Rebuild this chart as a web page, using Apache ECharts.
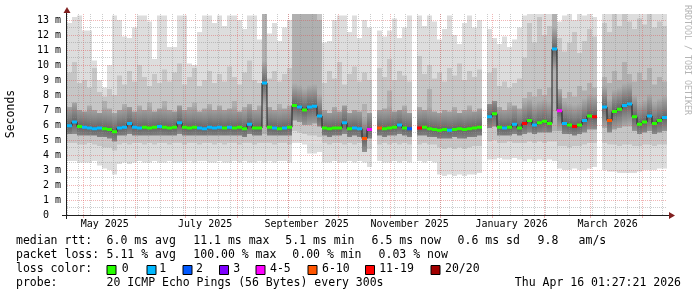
<!DOCTYPE html>
<html><head><meta charset="utf-8">
<script src="https://cdn.jsdelivr.net/npm/echarts@6/dist/echarts.min.js"></script>
<style>html,body{margin:0;padding:0;background:#fff}#c{width:697px;height:297px}</style>
</head><body><div id="c"></div>
<script>
// ---------- data ----------
// one column = 3 days, 120 columns from Apr 21 2025 to Apr 16 2026
const med = [5.95,6.2,5.9,5.85,5.8,5.75,5.8,5.75,5.7,5.55,
  5.8,5.85,6.1,5.85,5.8,5.85,5.8,5.85,5.9,5.85,
  5.8,5.85,6.15,5.85,5.8,5.85,5.8,5.75,5.85,5.8,
  5.85,5.8,5.85,5.8,5.85,5.75,6.05,5.8,5.8,8.8,
  5.85,5.8,5.75,5.8,5.85,7.3,7.2,7.0,7.2,7.25,
  6.6,5.8,5.75,5.8,5.8,6.15,5.75,5.8,5.75,5.1,
  5.7,null,5.8,5.75,5.8,5.85,6.0,5.8,5.75,null,
  5.8,5.85,5.75,5.7,5.65,5.7,5.65,5.7,5.75,5.7,
  5.75,5.8,5.85,null,6.55,6.75,5.85,5.8,5.85,6.05,
  5.8,6.1,6.3,6.0,6.15,6.25,6.1,11.07,6.95,6.1,
  6.0,5.9,6.0,6.3,6.6,6.55,null,7.2,6.3,6.9,
  7.05,7.3,7.4,6.55,6.05,6.2,6.6,6.1,6.3,6.5];
const loss = [1,1,0,1,1,1,1,0,0,0,
  1,1,1,1,1,0,0,0,1,0,
  0,0,1,0,0,0,1,1,1,1,
  1,0,1,0,0,0,1,0,0,1,
  0,1,0,1,0,0,1,0,1,1,
  1,0,0,0,0,1,0,1,1,5,
  4,null,5,0,0,0,1,0,2,null,
  6,0,0,0,0,0,1,0,0,0,
  0,0,0,null,1,0,0,1,0,1,
  0,6,0,1,0,0,0,1,4,1,
  0,6,0,1,0,6,null,1,5,0,
  0,1,1,0,0,0,1,0,0,1];
const smokeMin = [3.6,3.6,3.5,3.5,3.5,3.6,3.3,3.1,3.0,2.7,
  3.4,3.5,3.4,3.5,3.6,3.5,3.5,3.6,3.5,3.5,
  3.6,3.5,3.5,3.5,3.6,3.5,3.6,3.6,3.5,3.5,
  3.6,3.5,3.5,3.6,3.5,3.6,3.5,3.5,3.6,3.5,
  3.6,3.5,3.6,3.6,3.5,4.8,4.8,4.7,4.1,4.1,
  4.2,3.5,3.5,3.6,3.5,3.5,3.6,3.5,3.6,3.5,
  3.2,null,3.6,3.5,3.5,3.6,3.5,3.6,3.5,null,
  3.6,3.5,3.6,3.5,2.7,2.6,2.7,2.6,2.7,2.6,
  2.7,2.7,2.8,null,3.7,3.7,3.8,3.7,3.7,3.8,
  3.7,3.6,3.7,3.6,3.7,3.6,3.7,3.6,3.1,3.0,
  3.0,3.1,3.0,3.0,3.1,3.2,null,3.0,2.9,2.9,
  2.8,2.8,2.8,2.8,2.9,3.0,3.0,3.0,3.1,3.1];
const smokeLow = [4.8,4.8,4.7,4.7,4.8,4.7,4.6,4.5,4.5,4.3,
  4.7,4.8,4.7,4.8,4.8,4.7,4.8,4.7,4.8,4.8,
  4.7,4.8,4.8,4.7,4.8,4.8,4.7,4.8,4.8,4.7,
  4.8,4.7,4.8,4.8,4.7,4.8,4.8,4.7,4.8,4.8,
  4.8,4.7,4.8,4.8,4.7,5.6,5.5,5.4,5.3,5.3,
  5.2,4.8,4.7,4.8,4.8,4.7,4.8,4.7,4.8,4.6,
  4.4,null,4.7,4.8,4.7,4.8,4.7,4.8,4.7,null,
  4.7,4.8,4.7,4.7,4.5,4.4,4.5,4.4,4.5,4.4,
  4.5,4.6,4.6,null,4.9,5.0,4.8,4.8,4.9,4.8,
  4.8,4.8,4.9,4.8,4.9,4.8,4.9,4.9,4.6,4.6,
  4.5,4.6,4.6,4.7,4.8,4.8,null,4.8,4.7,4.7,
  4.6,4.7,4.7,4.6,4.6,4.7,4.7,4.6,4.7,4.7];
const smokeCoreLow = [5.4,5.4,5.3,5.3,5.3,5.3,5.2,5.2,5.1,4.9,
  5.3,5.3,5.4,5.3,5.3,5.3,5.3,5.3,5.3,5.3,
  5.3,5.3,5.4,5.3,5.3,5.3,5.3,5.3,5.3,5.3,
  5.3,5.3,5.3,5.3,5.3,5.2,5.4,5.3,5.3,5.4,
  5.3,5.3,5.3,5.3,5.3,6.3,6.2,6.0,6.0,6.1,
  5.9,5.3,5.2,5.3,5.3,5.4,5.2,5.3,5.2,4.2,
  5.1,null,5.3,5.2,5.3,5.3,5.4,5.3,5.2,null,
  5.3,5.3,5.2,5.2,5.1,5.1,5.1,5.2,5.1,5.1,
  5.2,5.2,5.3,null,5.8,5.9,5.3,5.3,5.3,5.4,
  5.3,5.4,5.5,5.4,5.5,5.5,5.5,5.6,5.6,5.4,
  5.4,5.3,5.4,5.5,5.7,5.7,null,5.8,5.5,5.7,
  5.8,5.9,5.9,5.6,5.4,5.5,5.6,5.4,5.5,5.6];
const smokeCoreHigh = [7.2,7.5,7.0,6.9,7.3,7.0,6.8,7.6,7.1,6.8,
  7.0,7.4,7.2,6.9,7.3,7.0,7.5,6.9,7.1,7.6,
  7.0,6.9,7.3,7.0,7.2,7.5,6.9,7.1,7.4,7.0,
  7.3,7.0,7.1,7.6,6.9,7.2,7.4,7.0,7.3,13.4,
  7.2,7.0,7.4,7.1,7.3,13.4,13.4,13.4,13.4,13.4,
  13.0,7.0,6.8,7.2,6.9,7.3,6.8,7.0,6.9,7.4,
  6.8,null,7.0,7.1,8.3,6.9,7.0,7.3,6.8,null,
  7.2,7.0,8.4,6.9,6.8,7.0,6.9,7.2,6.8,7.0,
  7.3,6.9,7.1,null,7.4,7.6,7.2,7.0,7.5,7.3,
  7.1,7.8,8.2,7.9,8.4,8.0,8.5,13.4,8.4,7.8,
  8.2,7.9,8.6,8.3,8.8,8.5,null,9.2,8.8,9.6,
  9.0,10.2,9.4,8.9,9.5,9.0,9.8,8.7,9.2,8.9];
const smokeHigh = [9.5,10.2,8.8,9.0,8.5,9.8,8.2,7.9,8.4,8.0,
  9.3,8.7,9.6,8.9,10.0,9.2,8.6,9.4,8.8,9.7,
  8.9,9.5,10.1,8.7,9.2,9.8,8.6,9.0,9.6,8.8,
  9.4,8.9,9.9,9.2,8.7,9.5,10.3,9.0,8.8,13.4,
  9.1,9.6,8.9,9.4,9.8,13.4,13.4,13.4,13.4,13.4,
  13.4,8.8,9.6,9.1,10.2,8.7,9.4,9.9,8.9,9.5,
  9.0,null,9.8,9.2,10.4,9.0,9.6,9.3,8.9,null,
  10.6,9.4,10.0,9.1,9.5,8.9,9.8,9.3,10.1,9.0,
  9.6,9.2,9.7,null,9.5,9.8,8.6,8.9,8.5,8.8,
  9.1,10.5,12.8,11.5,13.2,12.0,12.6,13.4,11.8,10.9,
  11.5,12.2,10.8,11.6,12.4,11.9,null,12.8,12.2,13.4,
  12.6,13.4,12.9,12.4,13.1,12.7,13.4,12.5,12.9,12.6];
const smokeMax = [12.8,13.2,13.3,12.3,12.3,10.3,9.0,8.5,10.0,13.3,
  13.0,11.9,11.8,12.5,13.3,13.3,12.9,10.4,13.3,13.3,
  11.2,11.2,13.3,13.3,10.1,10.0,12.2,13.3,13.3,12.8,
  13.3,12.6,13.3,13.3,13.0,12.4,13.3,13.3,11.7,13.4,
  12.1,12.8,11.6,12.5,13.0,13.4,13.4,13.4,13.4,13.4,
  13.4,11.5,11.6,13.0,13.3,13.3,12.2,13.3,11.8,13.0,
  12.5,null,12.3,11.9,12.3,13.1,11.8,12.5,13.3,null,
  13.3,12.6,13.3,12.9,11.7,12.4,13.3,12.0,11.4,12.8,
  13.3,12.5,13.0,null,12.4,11.8,11.4,11.9,11.2,11.7,
  12.5,13.3,13.4,13.4,13.4,13.4,13.4,13.4,12.9,13.3,
  13.4,13.0,13.4,13.3,13.4,13.2,null,13.4,13.4,13.4,
  13.4,13.4,13.4,13.4,13.4,13.4,13.4,13.4,13.4,13.4];
const columns = med.map((_, i) => String(i));

const lossLabels = ['0','1','2','3','4-5','6-10','11-19','20/20'];
const lossColors = ['#26ff00','#00b8ff','#0059ff','#7e00ff','#ff00ff','#ff5500','#ff0000','#a10000'];
const monthStartDays = [10,41,71,102,133,163,194,224,255,286,314,345];
const weekDays = [0,7,14,21,28,35,42,49,56,63,70,77,84,91,98,105,112,119,126,133,140,147,154,161,168,175,182,189,196,203,210,217,224,231,238,245,252,259,266,273,280,287,294,301,308,315,322,329,336,343,350,357];
const monthLabels = ['May 2025','July 2025','September 2025','November 2025','January 2026','March 2026'];
const monthLabelDays = [22.6,82.8,143.6,205.4,266.5,324];
const yMajorTicks = [1,2,3,4,5,6,7,8,9,10,11,12,13];
const yMinorTicks = [0.5,1.5,2.5,3.5,4.5,5.5,6.5,7.5,8.5,9.5,10.5,11.5,12.5];
const rttStats = ['6.0 ms avg','11.1 ms max','5.1 ms min','6.5 ms now','0.6 ms sd','9.8','am/s'];
const lossStats = ['5.11 % avg','100.00 % max','0.00 % min','0.03 % now'];
const probeText = '20 ICMP Echo Pings (56 Bytes) every 300s';
const stampText = 'Thu Apr 16 01:27:21 2026';

// ---------- layout (positions / styles only) ----------
const DAY_MAX = 359.6, Y_MAX = 13.4;
const MONO = "'DejaVu Sans Mono', monospace";
const LFONT = '11.5px ' + MONO;
const MAJOR_GRID = 'rgba(222,79,79,0.42)';
const MINOR_GRID = 'rgba(143,143,143,0.45)';
const rttX = [106.6,193.3,285.3,371.6,457.6,537.6,578.6];
const lossX = [106.6,193.3,292.3,378.6];
const boxX = [106.5,146.5,182.5,219,255.5,307.5,365,430.5];
const boxLabelX = [121.8,159.2,196,233.2,270,322,379.2,445];
const rowY = [241.5,255.2,269.5,283];

function shade(d){ const g = Math.round(100 + Math.min(Math.abs(d),1.5)/1.5*(176-100)); return 'rgb('+g+','+g+','+g+')'; }

function bandSeries(lo, hi, color, z){
  const data = [];
  columns.forEach((c, i) => { if (lo[i] != null && hi[i] != null) data.push([i, lo[i], hi[i], med[i]]); });
  return {
    type:'custom', xAxisIndex:0, yAxisIndex:0, z:z, silent:true, data:data,
    encode:{x:0, y:[1,2]},
    renderItem(params, api){
      const i = api.value(0), l = api.value(1), h = api.value(2), m = api.value(3);
      const a = api.coord([i, h]), b = api.coord([i, l]);
      const w = api.size([1,0])[0];
      let fill = color;
      if (color === 'core') {
        const span = h - l;
        const stops = [{offset:0, color:shade(h-m)}];
        if (h - m > 1.5) stops.push({offset:(h-(m+1.5))/span, color:shade(1.5)});
        stops.push({offset:(h-m)/span, color:shade(0)});
        if (m - l > 1.5) stops.push({offset:(h-(m-1.5))/span, color:shade(1.5)});
        stops.push({offset:1, color:shade(m-l)});
        fill = {type:'linear', x:0, y:0, x2:0, y2:1, colorStops:stops};
      }
      return {type:'rect', shape:{x:a[0]-w/2, y:a[1], width:w, height:b[1]-a[1]}, style:{fill:fill}};
    }
  };
}

const vGrid = weekDays.map(d => [d, 0, 0]).concat(monthStartDays.map(d => [d, 0, 1]));
const hGrid = yMinorTicks.map(v => [0, v, 0]).concat(yMajorTicks.map(v => [0, v, 1]));
const medRects = [];
columns.forEach((c, i) => { if (med[i] != null) medRects.push([i, med[i], loss[i]]); });

const graphics = [];
function txt(x, y, s, opt){
  graphics.push(Object.assign({type:'text', x:x, y:y, z:100,
    style:{text:s, font:LFONT, fill:'#000', align:'left', verticalAlign:'middle', textAlign:'left', textVerticalAlign:'middle'}}, opt||{}));
}
txt(16, rowY[0], 'median rtt:');
rttStats.forEach((s, k) => txt(rttX[k], rowY[0], s));
txt(16, rowY[1], 'packet loss:');
lossStats.forEach((s, k) => txt(lossX[k], rowY[1], s));
txt(16, rowY[2], 'loss color:');
lossLabels.forEach((s, k) => {
  graphics.push({type:'rect', z:100, shape:{x:boxX[k]+0.5, y:265.5, width:9, height:9}, style:{fill:lossColors[k], stroke:'#000', lineWidth:1}});
  txt(boxLabelX[k], rowY[2], s);
});
txt(16, rowY[3], 'probe:');
txt(106.6, rowY[3], probeText);
graphics.push({type:'text', x:681, y:rowY[3], z:100, style:{text:stampText, font:LFONT, fill:'#000', align:'right', verticalAlign:'middle', textAlign:'right', textVerticalAlign:'middle'}});
graphics.push({type:'text', x:11, y:114, rotation:Math.PI/2, z:100, style:{text:'Seconds', font:LFONT, fill:'#000', align:'center', verticalAlign:'middle', textAlign:'center', textVerticalAlign:'middle'}});
graphics.push({type:'text', x:687, y:60, rotation:-Math.PI/2, z:100, style:{text:'RRDTOOL / TOBI OETIKER', font:'8.3px '+MONO, fill:'#b4b4b4', align:'center', verticalAlign:'middle', textAlign:'center', textVerticalAlign:'middle'}});
// axes and arrows
graphics.push({type:'line', z:100, shape:{x1:62, y1:215.5, x2:670, y2:215.5}, style:{stroke:'#1f1f1f', lineWidth:1}});
graphics.push({type:'line', z:100, shape:{x1:66.5, y1:219, x2:66.5, y2:12}, style:{stroke:'#1f1f1f', lineWidth:1}});
graphics.push({type:'polygon', z:101, shape:{points:[[63.5,13],[70.5,13],[67,7]]}, style:{fill:'#801f1f'}});
graphics.push({type:'polygon', z:101, shape:{points:[[669,212],[669,219],[675,215.5]]}, style:{fill:'#801f1f'}});

const option = {
  animation:false,
  backgroundColor:'#ffffff',
  grid:{left:67, top:14, width:600, height:201, containLabel:false},
  xAxis:[
    {type:'category', data:columns, boundaryGap:true, show:false},
    {type:'value', min:0, max:DAY_MAX, position:'bottom',
      axisLine:{show:false}, axisTick:{show:false}, splitLine:{show:false},
      axisLabel:{customValues:monthLabelDays, hideOverlap:false, showMinLabel:true, showMaxLabel:true,
        formatter:function(v){ let best=-1, bd=1e9; monthLabelDays.forEach((d,k)=>{ if(Math.abs(d-v)<bd){bd=Math.abs(d-v);best=k;} }); return bd<0.5?monthLabels[best]:''; },
        color:'#000', fontFamily:MONO, fontSize:10, margin:4}}
  ],
  yAxis:{type:'value', min:0, max:Y_MAX, interval:1,
    axisLine:{show:false}, axisTick:{show:false}, splitLine:{show:false},
    axisLabel:{formatter:function(v){ if (Math.abs(v-Math.round(v))>1e-6) return ''; return v===0 ? '0  ' : (Math.round(v)+' m'); },
      color:'#000', fontFamily:MONO, fontSize:10, margin:6, showMaxLabel:true}},
  series:[
    bandSeries(smokeMin, smokeMax, '#dddddd', 1),
    bandSeries(smokeLow, smokeHigh, '#c6c6c6', 2),
    bandSeries(smokeCoreLow, smokeCoreHigh, 'core', 3),
    {type:'custom', xAxisIndex:1, yAxisIndex:0, z:4, silent:true, data:vGrid,
      renderItem(params, api){
        const d = api.value(0), major = api.value(2);
        const top = api.coord([d, Y_MAX]), bot = api.coord([d, 0]);
        const x = Math.floor(top[0]) + 0.5;
        const children = [{type:'line', shape:{x1:x, y1:Math.round(top[1]), x2:x, y2:Math.round(bot[1])},
          style:{stroke: major ? MAJOR_GRID : MINOR_GRID, lineWidth:1, lineDash:[1,1]}}];
        if (major) children.push({type:'line', shape:{x1:x, y1:Math.round(bot[1])+1, x2:x, y2:Math.round(bot[1])+3}, style:{stroke:MAJOR_GRID, lineWidth:1}});
        return {type:'group', children:children};
      }},
    {type:'custom', xAxisIndex:1, yAxisIndex:0, z:4, silent:true, data:hGrid,
      renderItem(params, api){
        const v = api.value(1), major = api.value(2);
        const l = api.coord([0, v]), r = api.coord([DAY_MAX, v]);
        const y = Math.floor(l[1]) + 0.5;
        return {type:'line', shape:{x1:Math.round(l[0]), y1:y, x2:Math.round(r[0]), y2:y},
          style:{stroke: major ? MAJOR_GRID : MINOR_GRID, lineWidth:1, lineDash:[1,1]}};
      }},
    {type:'line', xAxisIndex:0, yAxisIndex:0, z:5, data:med, step:'middle', symbol:'none', connectNulls:false, silent:true,
      lineStyle:{color:'#202020', width:1}},
    {type:'custom', xAxisIndex:0, yAxisIndex:0, z:6, silent:true, data:medRects,
      renderItem(params, api){
        const i = api.value(0), m = api.value(1), k = api.value(2);
        const p = api.coord([i, m]);
        const w = api.size([1,0])[0];
        return {type:'rect', shape:{x:p[0]-w/2, y:p[1]-1.5, width:w, height:3}, style:{fill:lossColors[k]}};
      }}
  ],
  graphic:graphics
};
const chart = echarts.init(document.getElementById('c'), null, {renderer:'canvas'});
chart.setOption(option);
</script></body></html>
